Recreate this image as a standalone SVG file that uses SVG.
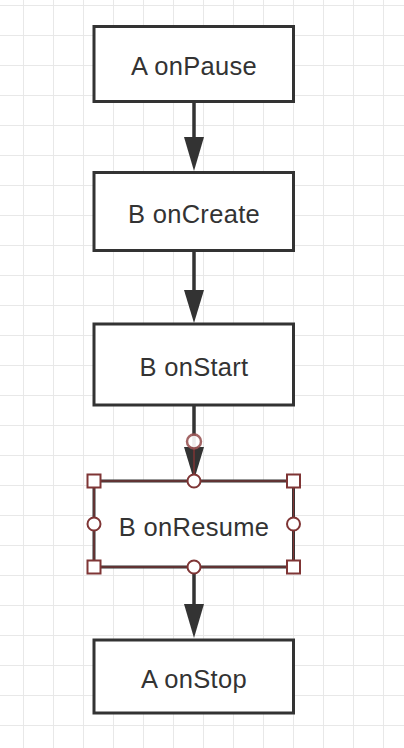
<svg xmlns="http://www.w3.org/2000/svg" width="404" height="748" viewBox="0 0 404 748">
  <defs>
    <pattern id="grid" x="23" y="5" width="30" height="30" patternUnits="userSpaceOnUse">
      <path d="M0 0H30M0 0V30" fill="none" stroke="#e8e8e8" stroke-width="2"/>
    </pattern>
    <style>
      .box{fill:#fff;stroke:#333;stroke-width:3}
      .lbl{font-family:"Liberation Sans",Arial,sans-serif;font-size:25.5px;fill:#333;text-anchor:middle;letter-spacing:0.3px}
      .edge{stroke:#333;stroke-width:3.5;fill:none}
      .head{fill:#333}
      .h{fill:#fff;stroke:#7f3535;stroke-width:2}
    </style>
  </defs>
  <rect width="404" height="748" fill="#fff"/>
  <rect width="404" height="748" fill="url(#grid)"/>

  <g id="connectors">
    <path class="edge" d="M194 101.5V137" />
    <path class="head" d="M184 137L194 171L204 137Z"/>
    <path class="edge" d="M194 250.5V290" />
    <path class="head" d="M184 290L194 323L204 290Z"/>
    <path class="edge" d="M194 405V447" />
    <path class="head" d="M184 447L194 480L204 447Z"/>
    <path class="edge" d="M194 567V604" />
    <path class="head" d="M184 604L194 638L204 604Z"/>
  </g>

  <g id="n1">
    <rect class="box" x="94" y="26.5" width="199.5" height="75"/>
    <text class="lbl" x="194" y="75">A onPause</text>
  </g>
  <g id="n2">
    <rect class="box" x="94" y="172.5" width="199.5" height="78"/>
    <text class="lbl" x="194" y="223">B onCreate</text>
  </g>
  <g id="n3">
    <rect class="box" x="94" y="324" width="199.5" height="81"/>
    <text class="lbl" x="194" y="376">B onStart</text>
  </g>
  <g id="n4">
    <rect class="box" x="94" y="481" width="199.5" height="86"/>
    <rect x="94" y="481" width="199.5" height="86" fill="none" stroke="#7f3535" stroke-width="1.2"/>
    <text class="lbl" x="194" y="536">B onResume</text>
  </g>
  <g id="n5">
    <rect class="box" x="94" y="640" width="199.5" height="73"/>
    <text class="lbl" x="194" y="688">A onStop</text>
  </g>

  <g id="selection">
    <line x1="194" y1="442" x2="194" y2="481" stroke="#7f3535" stroke-width="1.5"/>
    <circle cx="194" cy="441.5" r="7" fill="#fff" stroke="#9a5555" stroke-width="2.5" opacity="0.9"/>
    <rect class="h" x="87.5" y="474.5" width="13" height="13"/>
    <rect class="h" x="287" y="474.5" width="13" height="13"/>
    <rect class="h" x="87.5" y="560.5" width="13" height="13"/>
    <rect class="h" x="287" y="560.5" width="13" height="13"/>
    <circle class="h" cx="194" cy="481" r="6.5"/>
    <circle class="h" cx="194" cy="567" r="6.5"/>
    <circle class="h" cx="94" cy="524" r="6.5"/>
    <circle class="h" cx="293.5" cy="524" r="6.5"/>
  </g>
</svg>
